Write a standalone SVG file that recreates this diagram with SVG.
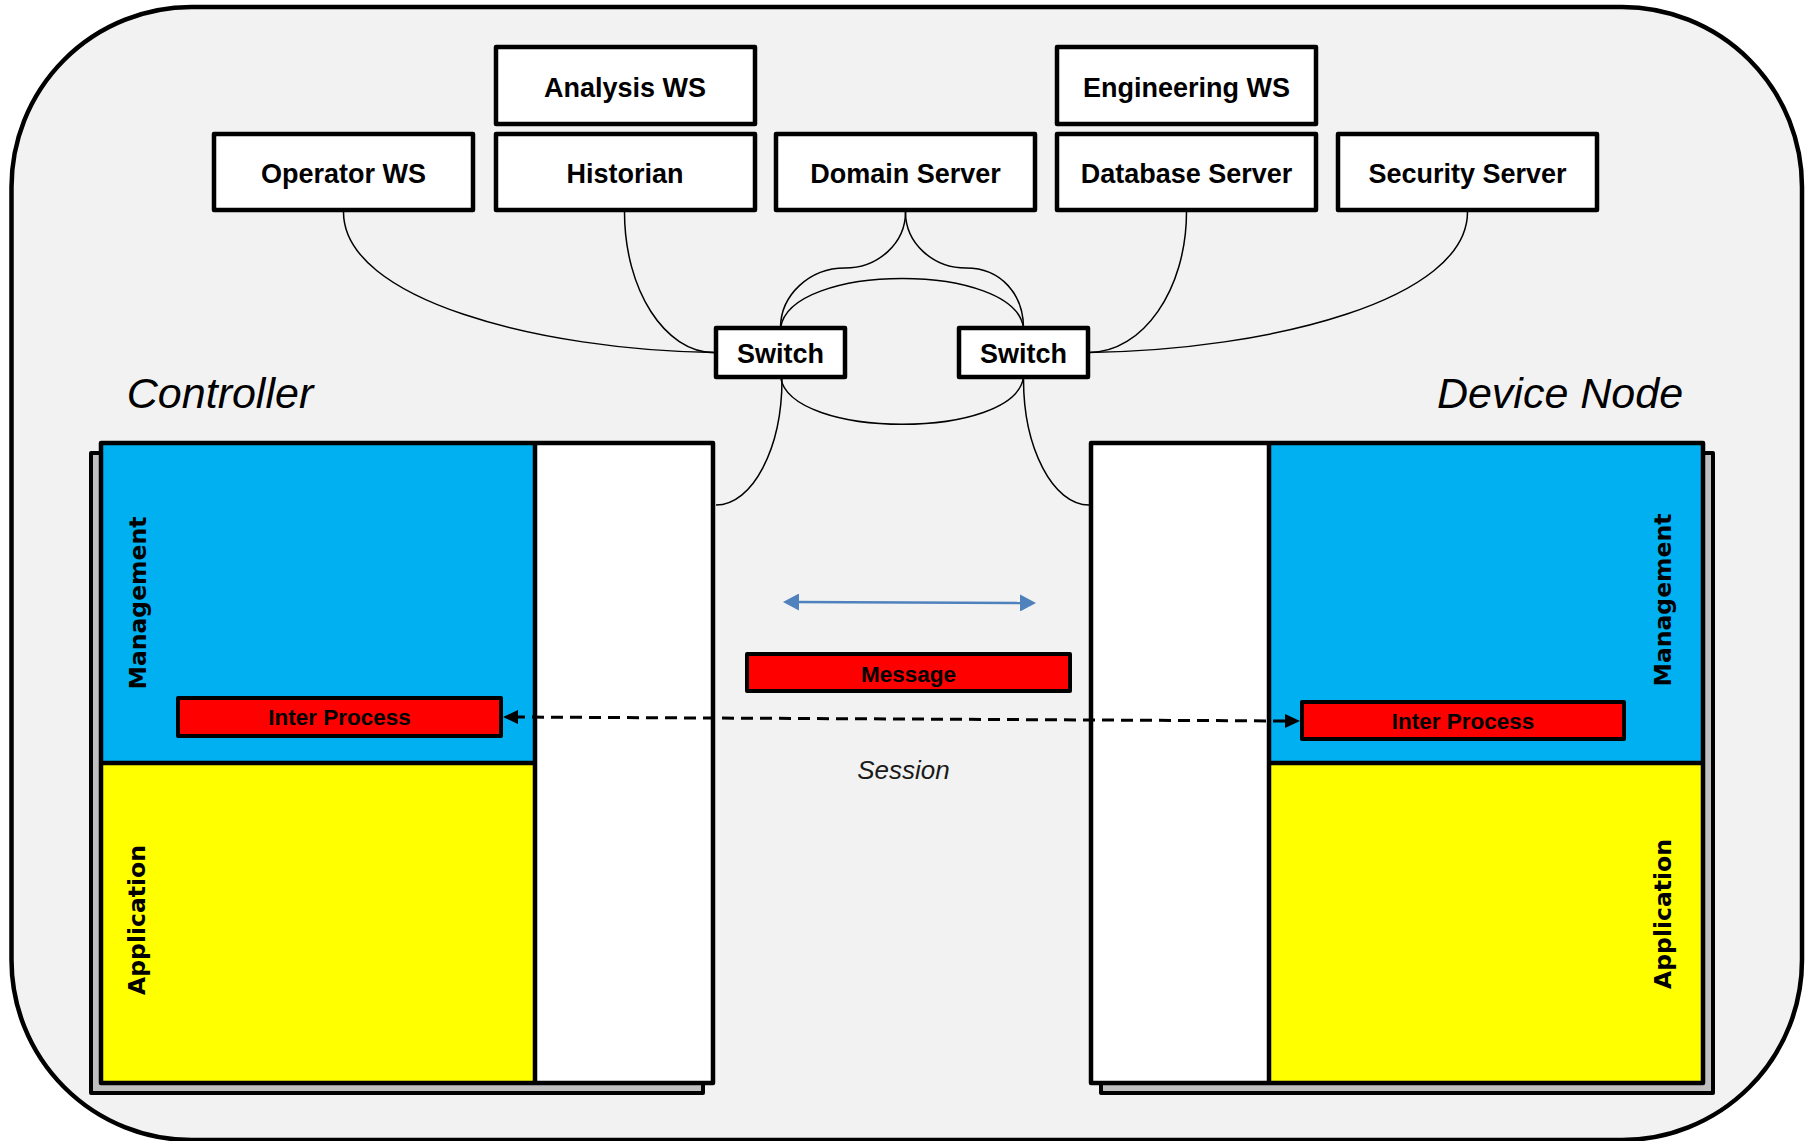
<svg xmlns="http://www.w3.org/2000/svg" width="1811" height="1141" viewBox="0 0 1811 1141">
  <style>
    .frame { fill: #f2f2f2; stroke: #000; stroke-width: 4.5; }
    .box { fill: #fff; stroke: #000; stroke-width: 4.5; stroke-linejoin: round; }
    .lbl { font-family: "Liberation Sans", Arial, sans-serif; font-weight: bold; font-size: 27px; text-anchor: middle; fill: #000; }
    .wire { fill: none; stroke: #000; stroke-width: 1.5; }
    .title { font-family: "Liberation Sans", Arial, sans-serif; font-style: italic; font-size: 43px; fill: #000; text-anchor: middle; }
    .shadow { fill: #bfbfbf; stroke: #000; stroke-width: 4; stroke-linejoin: round; }
    .mgmt { fill: #00b0f0; }
    .app { fill: #ffff00; }
    .col { fill: #fff; }
    .edge { fill: none; stroke: #000; stroke-width: 4.5; stroke-linejoin: round; }
    .layer { font-family: "DejaVu Sans", Verdana, sans-serif; font-weight: bold; font-size: 23.5px; text-anchor: middle; fill: #000; }
    .tag { fill: #ff0000; stroke: #000; stroke-width: 4; stroke-linejoin: round; }
    .tagtxt { font-family: "Liberation Sans", Arial, sans-serif; font-weight: bold; font-size: 22.5px; text-anchor: middle; fill: #000; }
    .session { font-family: "Liberation Sans", Arial, sans-serif; font-style: italic; font-size: 26px; text-anchor: middle; fill: #1a1a1a; }
  </style>
  <defs>
    <marker id="headBlack" viewBox="0 0 15 14" markerWidth="15" markerHeight="14" refX="5" refY="7" markerUnits="userSpaceOnUse" orient="auto-start-reverse">
      <path d="M0,0 L15,7 L0,14 Z" fill="#000" stroke="none"/>
    </marker>
    <marker id="headBlue" viewBox="0 0 16 17" markerWidth="16" markerHeight="17" refX="6" refY="8.5" markerUnits="userSpaceOnUse" orient="auto-start-reverse">
      <path d="M0,0 L16,8.5 L0,17 Z" fill="#4f81bd" stroke="none"/>
    </marker>
  </defs>

  <!-- enclosing rounded panel -->
  <rect class="frame" x="11.5" y="7" width="1790.5" height="1133" rx="180" ry="180"/>

  <!-- servers and workstations -->
  <g id="analysis-ws">
    <rect class="box" x="496" y="47" width="259" height="77"/>
    <text class="lbl" x="625" y="97">Analysis WS</text>
  </g>
  <g id="engineering-ws">
    <rect class="box" x="1057" y="47" width="259" height="77"/>
    <text class="lbl" x="1186.5" y="97">Engineering WS</text>
  </g>
  <g id="operator-ws">
    <rect class="box" x="214" y="134" width="259" height="76"/>
    <text class="lbl" x="343.5" y="183">Operator WS</text>
  </g>
  <g id="historian">
    <rect class="box" x="496" y="134" width="259" height="76"/>
    <text class="lbl" x="625" y="183">Historian</text>
  </g>
  <g id="domain-server">
    <rect class="box" x="776" y="134" width="259" height="76"/>
    <text class="lbl" x="905.5" y="183">Domain Server</text>
  </g>
  <g id="database-server">
    <rect class="box" x="1057" y="134" width="259" height="76"/>
    <text class="lbl" x="1186.5" y="183">Database Server</text>
  </g>
  <g id="security-server">
    <rect class="box" x="1338" y="134" width="259" height="76"/>
    <text class="lbl" x="1467.5" y="183">Security Server</text>
  </g>

  <!-- switches -->
  <g id="switch-1">
    <rect class="box" x="716" y="328" width="129" height="49"/>
    <text class="lbl" x="780.5" y="363">Switch</text>
  </g>
  <g id="switch-2">
    <rect class="box" x="959" y="328" width="129" height="49"/>
    <text class="lbl" x="1023.5" y="363">Switch</text>
  </g>

  <!-- controller stack -->
  <g id="controller">
    <text class="title" x="220" y="408">Controller</text>
    <rect class="shadow" x="91" y="453" width="612" height="640"/>
    <rect class="col" x="535" y="443" width="178" height="640"/>
    <rect class="mgmt" x="101" y="443" width="434" height="320"/>
    <rect class="app" x="101" y="763" width="434" height="320"/>
    <line class="edge" x1="535" y1="443" x2="535" y2="1083"/>
    <line class="edge" x1="101" y1="763" x2="535" y2="763"/>
    <rect class="edge" x="101" y="443" width="612" height="640"/>
    <text class="layer" transform="translate(146,603) rotate(-90)">Management</text>
    <text class="layer" transform="translate(145,920) rotate(-90)">Application</text>
  </g>
  <g id="controller-ipc">
    <rect class="tag" x="178" y="698" width="323" height="38"/>
    <text class="tagtxt" x="339.5" y="725">Inter Process</text>
  </g>

  <!-- device node stack -->
  <g id="device-node">
    <text class="title" x="1560" y="408">Device Node</text>
    <rect class="shadow" x="1101" y="453" width="612" height="640"/>
    <rect class="col" x="1091" y="443" width="178" height="640"/>
    <rect class="mgmt" x="1269" y="443" width="434" height="320"/>
    <rect class="app" x="1269" y="763" width="434" height="320"/>
    <line class="edge" x1="1269" y1="443" x2="1269" y2="1083"/>
    <line class="edge" x1="1269" y1="763" x2="1703" y2="763"/>
    <rect class="edge" x="1091" y="443" width="612" height="640"/>
    <text class="layer" transform="translate(1671,600) rotate(-90)">Management</text>
    <text class="layer" transform="translate(1671,914) rotate(-90)">Application</text>
  </g>
  <g id="device-ipc">
    <rect class="tag" x="1302" y="702" width="322" height="37"/>
    <text class="tagtxt" x="1463" y="729">Inter Process</text>
  </g>

  <!-- message and session -->
  <g id="message">
    <rect class="tag" x="747" y="654" width="323" height="37"/>
    <text class="tagtxt" x="908.5" y="682">Message</text>
  </g>
  <g id="session">
    <text class="session" x="903.5" y="779">Session</text>
  </g>

  <!-- network links, drawn last so the session line crosses the stacks -->
  <g id="connectors">
    <path class="wire" d="M343.5,212 C343.5,300 540,350 714,352.5"/>
    <path class="wire" d="M624.5,212 C624.5,290 665,352.5 714,352.5"/>
    <path class="wire" d="M905.5,212 C905.5,243 878.4,268 845,268 C809.4,268 780.5,295 780.5,328"/>
    <path class="wire" d="M905.5,212 C905.5,243 932.6,268 966,268 C1001.6,268 1023.5,295 1023.5,328"/>
    <path class="wire" d="M780.5,328 C790,262 1015,262 1023.5,328"/>
    <path class="wire" d="M780.5,377 C790,440 1015,440 1023.5,377"/>
    <path class="wire" d="M782,379 C782,448.6 752.5,505 716,505"/>
    <path class="wire" d="M1023.5,379 C1023.5,448.6 1053.2,505 1089,505"/>
    <path class="wire" d="M1186.5,212 C1186.5,289.6 1142.8,352.5 1089,352.5"/>
    <path class="wire" d="M1467.5,212 C1467.5,300 1270,350 1089,352.5"/>
    <!-- session between the two inter-process endpoints -->
    <line x1="513" y1="717" x2="1290" y2="721" stroke="#000" stroke-width="3" stroke-dasharray="12 7" marker-start="url(#headBlack)" marker-end="url(#headBlack)"/>
    <!-- message flow -->
    <line x1="793" y1="602" x2="1026" y2="603" stroke="#4f81bd" stroke-width="2.5" marker-start="url(#headBlue)" marker-end="url(#headBlue)"/>
  </g>
</svg>
